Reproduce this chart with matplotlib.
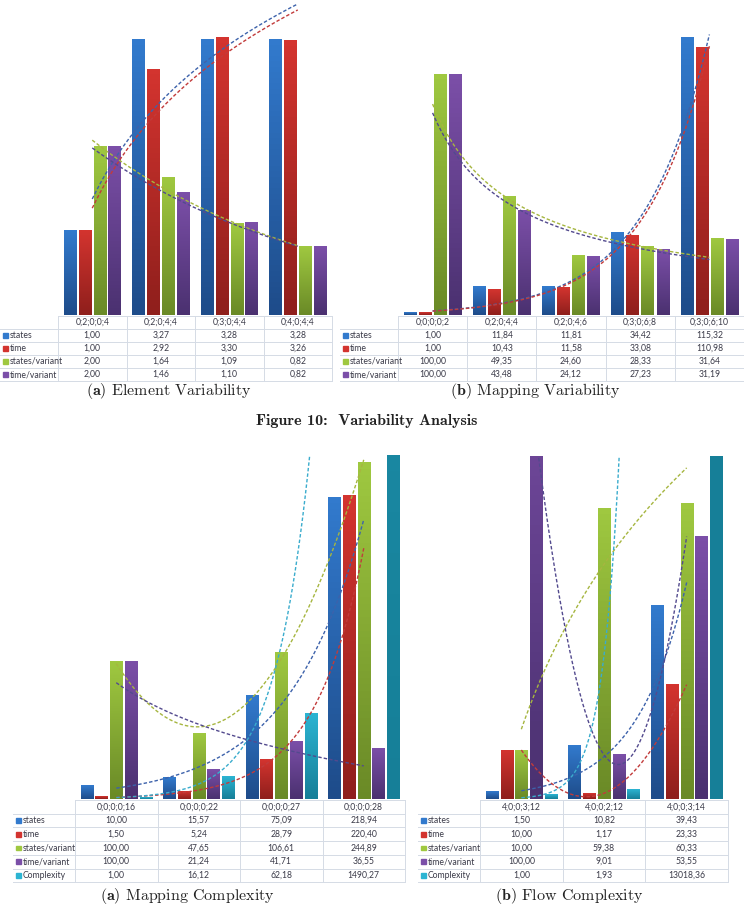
import numpy as np
import matplotlib
matplotlib.use('Agg')
import matplotlib.pyplot as plt
from matplotlib.colors import LinearSegmentedColormap
from matplotlib.patches import Rectangle

plt.rcParams['mathtext.fontset'] = 'cm'

W, H = 744, 909

# (a) Element Variability
ev_cats = ['0;2;0;0;4', '0;2;0;4;4', '0;3;0;4;4', '0;4;0;4;4']
ev_states = [1.00, 3.27, 3.28, 3.28]
ev_time = [1.00, 2.92, 3.30, 3.26]
ev_spv = [2.00, 1.64, 1.09, 0.82]
ev_tpv = [2.00, 1.46, 1.10, 0.82]

# (b) Mapping Variability
mv_cats = ['0;0;0;0;2', '0;2;0;4;4', '0;2;0;4;6', '0;3;0;6;8', '0;3;0;6;10']
mv_states = [1.00, 11.84, 11.81, 34.42, 115.32]
mv_time = [1.00, 10.43, 11.58, 33.08, 110.98]
mv_spv = [100.00, 49.35, 24.60, 28.33, 31.64]
mv_tpv = [100.00, 43.48, 24.12, 27.23, 31.19]

# (a) Mapping Complexity
mc_cats = ['0;0;0;0;16', '0;0;0;0;22', '0;0;0;0;27', '0;0;0;0;28']
mc_states = [10.00, 15.57, 75.09, 218.94]
mc_time = [1.50, 5.24, 28.79, 220.40]
mc_spv = [100.00, 47.65, 106.61, 244.89]
mc_tpv = [100.00, 21.24, 41.71, 36.55]
mc_cplx = [1.00, 16.12, 62.18, 1490.27]

# (b) Flow Complexity
fc_cats = ['4;0;0;3;12', '4;0;0;2;12', '4;0;0;3;14']
fc_states = [1.50, 10.82, 39.43]
fc_time = [10.00, 1.17, 23.33]
fc_spv = [10.00, 59.38, 60.33]
fc_tpv = [100.00, 9.01, 53.55]
fc_cplx = [1.00, 1.93, 13018.36]

names = ['states', 'time', 'states/variant', 'time/variant', 'Complexity']
bar_top = ['#327acd', '#d3342f', '#9fc840', '#7b4fa8', '#2cb4d2']
bar_bot = ['#1e4c8a', '#8f1f1c', '#6a8a27', '#4b3170', '#167f98']
trend_col = ['#3d62ab', '#c23b3b', '#a6b640', '#534a8e', '#3aaccd']
grid_col = '#d5dbe5'
txt_col = '#3a3a48'


def fit_trend(y, kind, xs):
    # excel style trendlines
    x = np.arange(1, len(y) + 1)
    y = np.asarray(y, float)
    if kind == 'log':
        a, b = np.polyfit(np.log(x), y, 1)
        return a * np.log(xs) + b
    if kind == 'exp':
        a, b = np.polyfit(x, np.log(y), 1)
        return np.exp(a * xs + b)
    if kind == 'power':
        a, b = np.polyfit(np.log(x), np.log(y), 1)
        return np.exp(b) * xs ** a
    return np.polyval(np.polyfit(x, y, 2), xs)


def px_axes(fig, l, t, r, b):
    return fig.add_axes([l / W, 1 - b / H, (r - l) / W, (b - t) / H])


def draw_chart(fig, box, series, kinds, ymax, group):
    ax = px_axes(fig, *box)
    n = len(series[0])
    k = len(series)
    pitch = group / k
    for j, vals in enumerate(series):
        xpos = np.arange(n) + (j - (k - 1) / 2) * pitch
        bars = ax.bar(xpos, vals, width=pitch * 0.83, facecolor='none',
                      edgecolor='none', zorder=3)
        cmap = LinearSegmentedColormap.from_list('g', [bar_bot[j], bar_top[j]])
        for b in bars:
            x0, w, h = b.get_x(), b.get_width(), b.get_height()
            ax.imshow(np.linspace(0, 1, 50).reshape(-1, 1), extent=[x0, x0 + w, 0, h],
                      origin='lower', aspect='auto', cmap=cmap, zorder=2)
    xs = np.linspace(1, n, 200)
    for j, vals in enumerate(series):
        ax.plot(xs - 1, fit_trend(vals, kinds[j], xs), color=trend_col[j],
                lw=1.0, dashes=(2.5, 1.5), zorder=4)
    ax.set_xlim(-0.5, n - 0.5)
    ax.set_ylim(0, ymax)
    ax.axis('off')
    return ax


def draw_table(ov, xl, x0, x1, ytop, rh, cats, series, fs=6.2):
    n = len(cats)
    cw = (x1 - x0) / n
    ybot = ytop + rh * (len(series) + 1)
    ov.plot([x0, x1], [ytop, ytop], color=grid_col, lw=0.7)
    for i in range(n + 1):
        ov.plot([x0 + i * cw] * 2, [ytop, ybot], color=grid_col, lw=0.7)
    for r in range(1, len(series) + 2):
        y = ytop + r * rh
        ov.plot([xl, x1], [y, y], color=grid_col, lw=0.7)
    for i, c in enumerate(cats):
        ov.text(x0 + (i + 0.5) * cw, ytop + rh / 2, c, ha='center', va='center',
                fontsize=fs, color=txt_col, family='Lato')
    for r, vals in enumerate(series):
        yc = ytop + (r + 1.5) * rh
        ov.add_patch(Rectangle((xl + 3, yc - 2.2), 4.5, 4.5, color=bar_top[r]))
        ov.text(xl + 10, yc, names[r], ha='left', va='center', fontsize=fs,
                color=txt_col, family='Lato')
        for i, v in enumerate(vals):
            ov.text(x0 + (i + 0.5) * cw, yc, f'{v:.2f}'.replace('.', ','),
                    ha='center', va='center', fontsize=fs, color=txt_col, family='Lato')


fig = plt.figure(figsize=(W / 100, H / 100), dpi=100)
ov = fig.add_axes([0, 0, 1, 1])
ov.set_xlim(0, W)
ov.set_ylim(H, 0)
ov.axis('off')

ev = [ev_states, ev_time, ev_spv, ev_tpv]
mv = [mv_states, mv_time, mv_spv, mv_tpv]
mc = [mc_states, mc_time, mc_spv, mc_tpv, mc_cplx]
fc = [fc_states, fc_time, fc_spv, fc_tpv, fc_cplx]

draw_chart(fig, (58, 2, 332, 315), ev, ['log', 'log', 'exp', 'exp'], 3.72, 0.87)
draw_chart(fig, (398, 2, 744, 315), mv, ['exp', 'exp', 'power', 'power'], 130, 0.87)
draw_chart(fig, (75, 455, 405, 799), mc, ['exp', 'exp', 'poly2', 'log', 'exp'], 250, 0.89)
draw_chart(fig, (480, 456, 728, 799), fc, ['exp', 'poly2', 'log', 'poly2', 'exp'], 70, 0.89)

draw_table(ov, 0, 58, 332, 316, 13, ev_cats, ev)
draw_table(ov, 340, 398, 744, 316, 13, mv_cats, mv)
draw_table(ov, 13, 75, 405, 800, 13.7, mc_cats, mc)
draw_table(ov, 418, 480, 728, 800, 13.7, fc_cats, fc)

cap = dict(fontname='cmr10', fontsize=11.5, ha='center', va='center', color='#222222')
fig.text(169 / W, 1 - 391 / H, r'$\mathbf{(a)}$ Element Variability', **cap)
fig.text(535 / W, 1 - 391 / H, r'$\mathbf{(b)}$ Mapping Variability', **cap)
fig.text(187 / W, 1 - 896 / H, r'$\mathbf{(a)}$ Mapping Complexity', **cap)
fig.text(569 / W, 1 - 896 / H, r'$\mathbf{(b)}$ Flow Complexity', **cap)
fig.text(367 / W, 1 - 421 / H, 'Figure 10:  Variability Analysis', fontname='cmb10',
         fontsize=11.5, ha='center', va='center', color='#222222')

fig.savefig('out.png', dpi=100)
